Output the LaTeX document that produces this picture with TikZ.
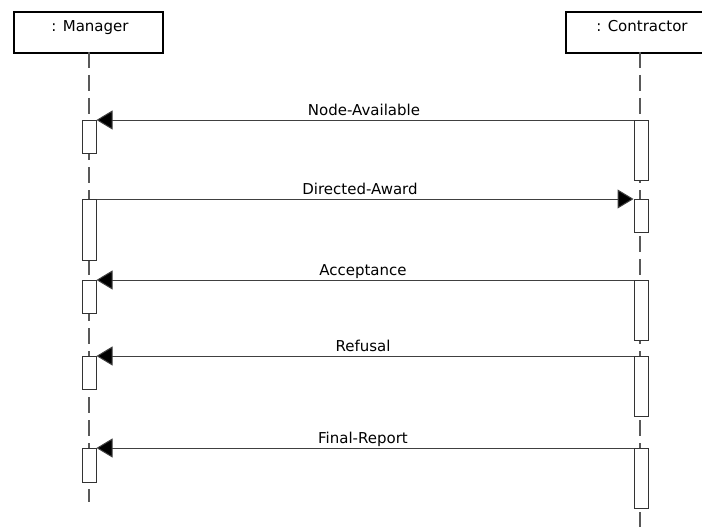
\documentclass[tikz,border=0pt]{standalone}
\usepackage{fontspec}
\setmainfont{DejaVu Sans}
\usetikzlibrary{arrows.meta}
\begin{document}
\begin{tikzpicture}[x=1pt,y=-1pt,
  obj/.style={draw=black,line width=2pt,minimum width=149pt,minimum height=41pt,anchor=north,inner sep=0pt},
  objtxt/.style={anchor=base,inner sep=0pt,font=\fontsize{15}{18}\selectfont},
  life/.style={draw=black!65,line width=1.2pt,dash pattern=on 16pt off 7pt},
  act/.style={draw=black!80,fill=white,line width=1pt,minimum width=14pt,anchor=north,inner sep=0pt},
  msg/.style={draw=black!75,line width=1pt,-{Triangle[length=16pt,width=19pt,fill=black]}},
  lbl/.style={anchor=base,inner sep=0pt,font=\fontsize{15}{18}\selectfont}]
\useasboundingbox (0,0) rectangle (702,527);
\begin{scope}
\clip (0,0) rectangle (702,527);
% objects
\node[obj] (mgr) at (88.5,11) {};
\node[obj] (con) at (640,11) {};
\node[objtxt] (mgrt) at (90,32) {: Manager};
\node[objtxt] (cont) at (642,32) {: Contractor};
% lifelines
\coordinate (mend) at (89,502);
\coordinate (cend) at (640,540);
\draw[life] (89,52) -- (mend);
\draw[life] (640,52) -- (cend);
% activations manager
\node[act,minimum height=33pt] (m1) at (89,120) {};
\node[act,minimum height=61pt] (m2) at (89,199) {};
\node[act,minimum height=33pt] (m3) at (89,280) {};
\node[act,minimum height=33pt] (m4) at (89,356) {};
\node[act,minimum height=34pt] (m5) at (89,448) {};
% activations contractor
\node[act,minimum height=60pt] (c1) at (641,120) {};
\node[act,minimum height=33pt] (c2) at (641,199) {};
\node[act,minimum height=60pt] (c3) at (641,280) {};
\node[act,minimum height=60pt] (c4) at (641,356) {};
\node[act,minimum height=60pt] (c5) at (641,448) {};
% messages
\draw[msg] (c1.north west) -- (m1.north east);
\draw[msg] (m2.north east) -- (c2.north west);
\draw[msg] (c3.north west) -- (m3.north east);
\draw[msg] (c4.north west) -- (m4.north east);
\draw[msg] (c5.north west) -- (m5.north east);
% labels
\node[lbl] (l1) at (364,115) {Node-Available};
\node[lbl] (l2) at (360,194) {Directed-Award};
\node[lbl] (l3) at (363,275) {Acceptance};
\node[lbl] (l4) at (363,351) {Refusal};
\node[lbl] (l5) at (363,443) {Final-Report};
\end{scope}
\end{tikzpicture}
\end{document}
